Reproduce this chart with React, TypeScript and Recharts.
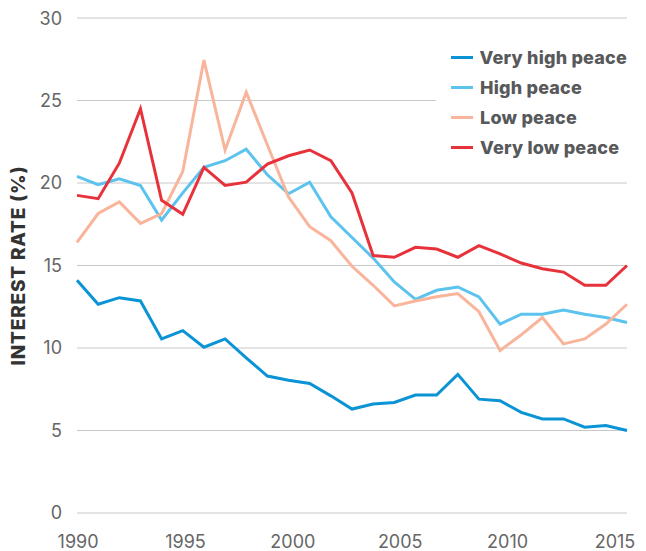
import {
  LineChart,
  Line,
  XAxis,
  YAxis,
  CartesianGrid,
  Legend,
} from 'recharts'

const years = [
  1990, 1991, 1992, 1993, 1994, 1995, 1996, 1997, 1998, 1999, 2000, 2001, 2002, 2003,
  2004, 2005, 2006, 2007, 2008, 2009, 2010, 2011, 2012, 2013, 2014, 2015, 2016,
]

const veryHighPeace = [
  14.1, 12.65, 13.05, 12.85, 10.55, 11.05, 10.05, 10.55, 9.4, 8.3, 8.05, 7.85, 7.1, 6.3,
  6.6, 6.7, 7.15, 7.15, 8.4, 6.9, 6.8, 6.1, 5.7, 5.7, 5.2, 5.3, 5.0,
]

const highPeace = [
  20.4, 19.9, 20.25, 19.85, 17.75, 19.4, 20.95, 21.35, 22.05, 20.5, 19.35, 20.05, 17.95,
  16.7, 15.45, 14.0, 12.95, 13.5, 13.7, 13.1, 11.45, 12.05, 12.05, 12.3, 12.05, 11.85, 11.55,
]

const lowPeace = [
  16.4, 18.15, 18.85, 17.55, 18.15, 20.7, 27.45, 22.0, 25.5, 22.3, 19.15, 17.35, 16.5,
  14.95, 13.8, 12.55, 12.85, 13.1, 13.3, 12.2, 9.85, 10.8, 11.85, 10.25, 10.55, 11.45, 12.65,
]

const veryLowPeace = [
  19.25, 19.05, 21.2, 24.5, 18.95, 18.1, 20.95, 19.85, 20.05, 21.15, 21.65, 22.0, 21.35,
  19.4, 15.6, 15.5, 16.1, 16.0, 15.5, 16.2, 15.7, 15.15, 14.8, 14.6, 13.8, 13.8, 15.0,
]

const xTicks = [1990, 1995, 2000, 2005, 2010, 2015]
const yTicks = [0, 5, 10, 15, 20, 25, 30]

const series = [
  { key: 'veryHigh', name: 'Very high peace', color: '#0a93d5', values: veryHighPeace },
  { key: 'high', name: 'High peace', color: '#5bc3ed', values: highPeace },
  { key: 'low', name: 'Low peace', color: '#f9b59c', values: lowPeace },
  { key: 'veryLow', name: 'Very low peace', color: '#e8323b', values: veryLowPeace },
]

const data = years.map((year, i) => {
  const row: Record<string, number> = { year }
  series.forEach((s) => {
    row[s.key] = s.values[i]
  })
  return row
})

const FONT = 'Inter, "Noto Sans", sans-serif'

const YLabel = ({ viewBox }: { viewBox?: { x: number; y: number; width: number; height: number } }) => {
  if (!viewBox) return null
  const cx = 10
  const cy = viewBox.y + viewBox.height / 2
  return (
    <text
      x={cx}
      y={cy}
      transform={`rotate(-90, ${cx}, ${cy})`}
      textAnchor="middle"
      dominantBaseline="central"
      fill="#333"
      fontSize={19}
      fontWeight={800}
      fontFamily={FONT}
      letterSpacing={0.8}
    >
      INTEREST RATE (%)
    </text>
  )
}

const LegendBox = () => (
  <div style={{ background: '#fff', padding: '12px 0 10px 15px' }}>
    {series.map((s) => (
      <div key={s.key} style={{ display: 'flex', alignItems: 'center', height: 30 }}>
        <span style={{ width: 22, height: 3, background: s.color, marginRight: 7 }} />
        <span
          style={{
            fontFamily: FONT,
            fontSize: 18,
            fontWeight: 800,
            color: '#58595b',
            letterSpacing: 0.2,
            whiteSpace: 'nowrap',
          }}
        >
          {s.name}
        </span>
      </div>
    ))}
  </div>
)

export default function App() {
  return (
    <div style={{ fontFamily: FONT }}>
      <LineChart
        width={638}
        height={543}
        data={data}
        margin={{ top: 10, right: 19, bottom: 2, left: 0 }}
      >
        <CartesianGrid xAxisId="labels" vertical={false} stroke="#c8c8c8" strokeWidth={1} />
        <XAxis
          xAxisId="labels"
          dataKey="year"
          type="number"
          domain={[1989.95, 2015.56]}
          allowDataOverflow
          ticks={xTicks}
          axisLine={false}
          tickLine={false}
          tickMargin={16}
          height={36}
          tick={{ fontSize: 18, fill: '#666', fontFamily: FONT }}
        />
        <XAxis xAxisId="data" dataKey="year" type="number" domain={[1990, 2016]} height={0} hide />
        <YAxis
          domain={[0, 30]}
          ticks={yTicks}
          width={69}
          axisLine={false}
          tickLine={false}
          tickMargin={9}
          tick={{ fontSize: 18, fill: '#666', fontFamily: FONT }}
          label={{ content: <YLabel /> }}
        />
        <Legend
          layout="vertical"
          align="center"
          verticalAlign="middle"
          wrapperStyle={{ left: 428, top: 22, width: 191 }}
          content={<LegendBox />}
        />
        {series.map((s) => (
          <Line
            key={s.key}
            xAxisId="data"
            type="linear"
            dataKey={s.key}
            name={s.name}
            stroke={s.color}
            strokeWidth={3}
            dot={false}
            activeDot={false}
            isAnimationActive={false}
          />
        ))}
      </LineChart>
    </div>
  )
}
